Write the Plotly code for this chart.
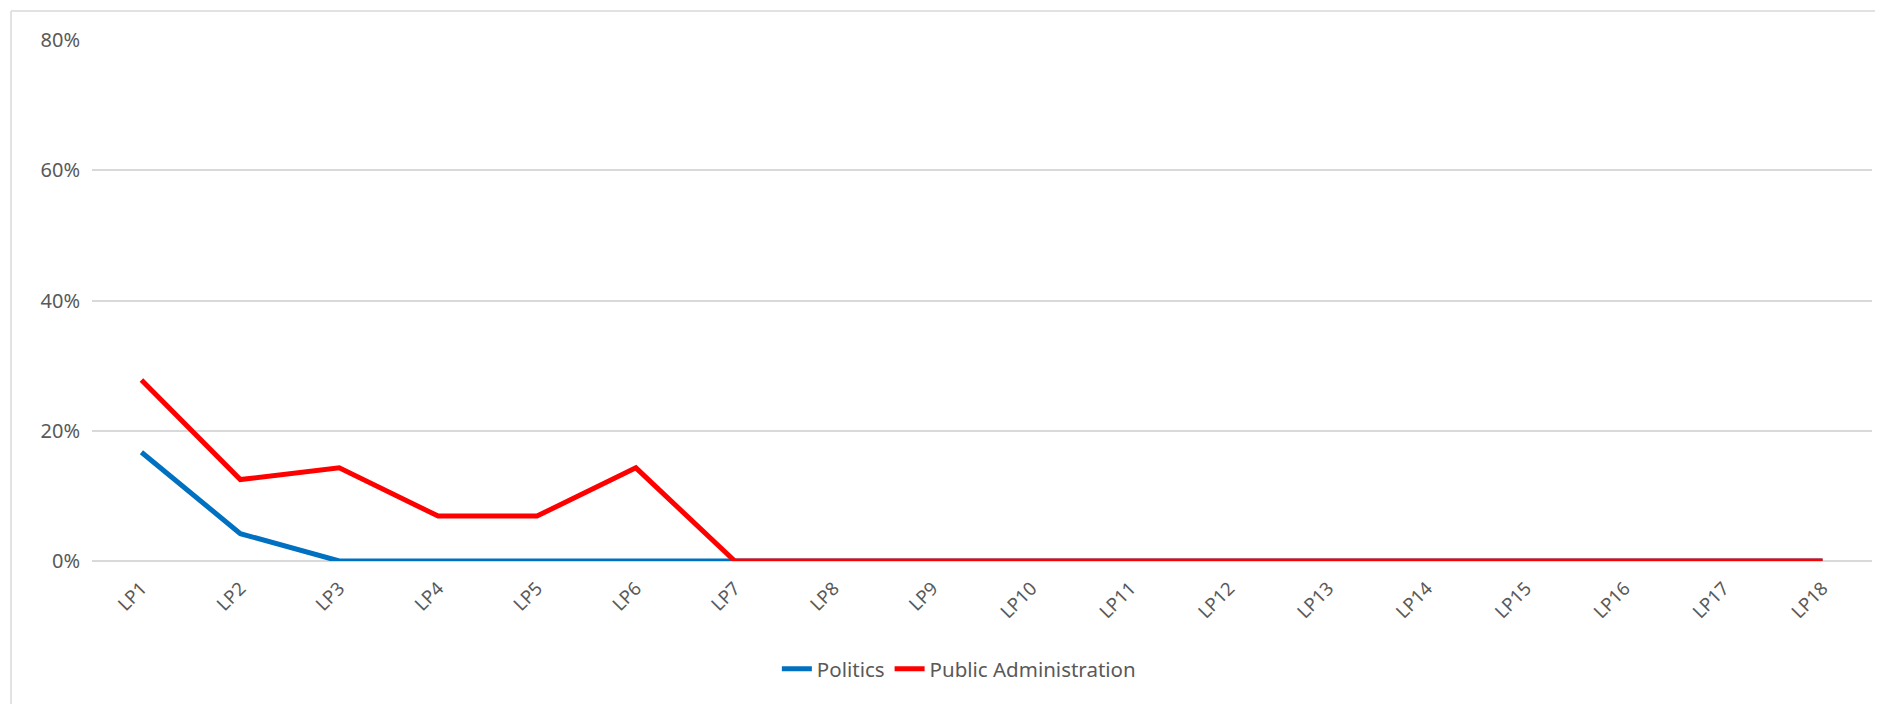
import plotly.graph_objects as go

categories = [f"LP{i}" for i in range(1, 19)]
politics = [0.167, 0.042, 0, 0, 0, 0, 0, 0, 0, 0, 0, 0, 0, 0, 0, 0, 0, 0]
public_admin = [0.278, 0.125, 0.143, 0.069, 0.069, 0.143, 0, 0, 0, 0, 0, 0, 0, 0, 0, 0, 0, 0]
y_ticks = [0, 0.2, 0.4, 0.6, 0.8]
y_tick_labels = ["0%", "20%", "40%", "60%", "80%"]

FONT = "Noto Sans"
TXT = "#595959"

fig = go.Figure()
fig.add_trace(go.Scatter(x=categories, y=politics, mode="lines", name="Politics",
                         line=dict(color="#0070c0", width=5)))
fig.add_trace(go.Scatter(x=categories, y=public_admin, mode="lines", name="Public Administration",
                         line=dict(color="#ff0000", width=5)))

fig.update_layout(
    width=1883, height=704,
    margin=dict(l=84, r=19, t=32, b=151),
    paper_bgcolor="white", plot_bgcolor="white",
    font=dict(family=FONT, color=TXT, size=20),
    showlegend=True,
    legend=dict(orientation="h", x=0.487, xanchor="center", y=-0.207, yanchor="middle",
                font=dict(size=20.5, color=TXT), tracegroupgap=0),
    xaxis=dict(type="category", range=[-0.5, 17.5], showgrid=False, zeroline=False,
               showline=False, ticks="", tickangle=-45, tickfont=dict(size=18.5, color=TXT),
               ticklabelstandoff=12),
    yaxis=dict(range=[0, 0.8], tickvals=y_ticks, ticktext=y_tick_labels,
               showgrid=True, gridcolor="#d9d9d9", gridwidth=1.5,
               zeroline=True, zerolinecolor="#d9d9d9", zerolinewidth=1.5,
               showline=False, ticks="", tickfont=dict(size=20, color=TXT),
               ticklabelstandoff=11),
    shapes=[
        dict(type="line", xref="paper", yref="paper", x0=-0.0455, x1=-0.0455, y0=1.0556, y1=-0.35,
             line=dict(color="#d9d9d9", width=1.5)),
        dict(type="line", xref="paper", yref="paper", x0=-0.0455, x1=1.006, y0=1.0556, y1=1.0556,
             line=dict(color="#d9d9d9", width=1.5)),
    ],
)

fig.write_html("out.html")
